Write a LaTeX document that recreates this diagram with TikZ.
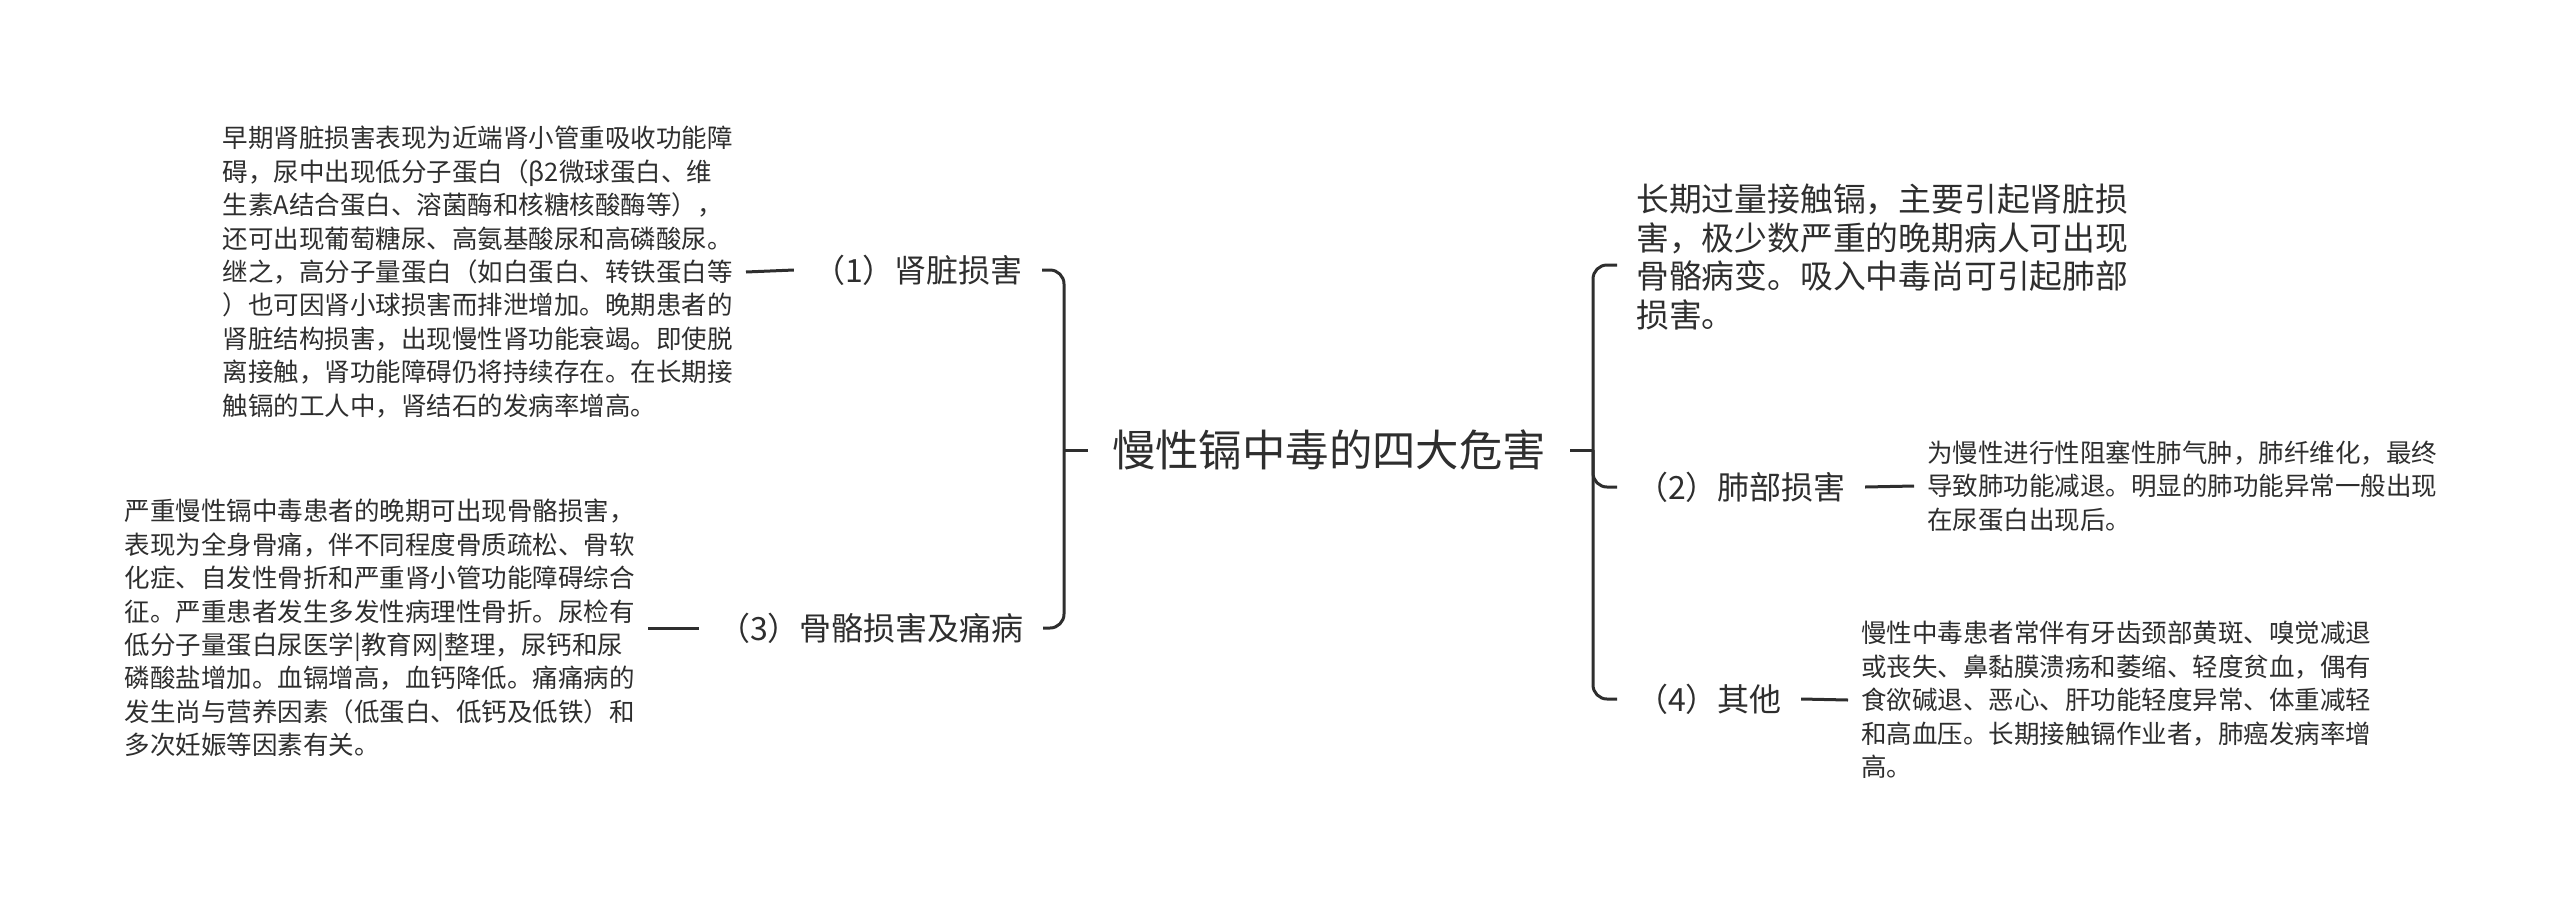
\documentclass[tikz,border=0pt]{standalone}
\usepackage{fontspec}
\newfontfamily\cjkfont{Noto Sans CJK SC}
\definecolor{inkgray}{HTML}{2E2E2E}

\begin{document}
\begin{tikzpicture}[x=1pt,y=-1pt,
  rootnode/.style={font=\cjkfont\fontsize{43.4}{52}\selectfont, text=inkgray, inner xsep=24pt, inner ysep=0pt},
  labelnode/.style={font=\cjkfont\fontsize{32}{38}\selectfont, text=inkgray, inner xsep=19pt, inner ysep=0pt},
  topnode/.style={font=\cjkfont\fontsize{32.8}{38.5}\selectfont, text=inkgray, inner xsep=19pt, inner ysep=0pt, align=left},
  notenode/.style={font=\cjkfont\fontsize{25.5}{33.4}\selectfont, text=inkgray, inner xsep=13pt, inner ysep=0pt, align=left},
  linkline/.style={draw=inkgray, line width=3pt},
  bracket/.style={linkline, rounded corners=14pt}]
\useasboundingbox (0,0) rectangle (2560,903);
\node[rootnode] (root) at (1329,450) {慢性镉中毒的四大危害};
\coordinate (lj) at (1064,450);
\coordinate (rj) at (1593,450);
\node[labelnode, anchor=east] (l1) at (1042,270) {（1）肾脏损害};
\node[labelnode, anchor=east] (l3) at (1043,628) {（3）骨骼损害及痛病};
\node[topnode, anchor=west] (top) at (1617,257) {长期过量接触镉，主要引起肾脏损\\害，极少数严重的晚期病人可出现\\骨骼病变。吸入中毒尚可引起肺部\\损害。};
\node[labelnode, anchor=west] (l2) at (1617,487) {（2）肺部损害};
\node[labelnode, anchor=west] (l4) at (1617,699) {（4）其他};
\node[notenode, anchor=east] (d1) at (746,272) {早期肾脏损害表现为近端肾小管重吸收功能障\\碍，尿中出现低分子蛋白（β2微球蛋白、维\\生素A结合蛋白、溶菌酶和核糖核酸酶等），\\还可出现葡萄糖尿、高氨基酸尿和高磷酸尿。\\继之，高分子量蛋白（如白蛋白、转铁蛋白等\\）也可因肾小球损害而排泄增加。晚期患者的\\肾脏结构损害，出现慢性肾功能衰竭。即使脱\\离接触，肾功能障碍仍将持续存在。在长期接\\触镉的工人中，肾结石的发病率增高。};
\node[notenode, anchor=east] (d3) at (648,628) {严重慢性镉中毒患者的晚期可出现骨骼损害，\\表现为全身骨痛，伴不同程度骨质疏松、骨软\\化症、自发性骨折和严重肾小管功能障碍综合\\征。严重患者发生多发性病理性骨折。尿检有\\低分子量蛋白尿医学|教育网|整理，尿钙和尿\\磷酸盐增加。血镉增高，血钙降低。痛痛病的\\发生尚与营养因素（低蛋白、低钙及低铁）和\\多次妊娠等因素有关。};
\node[notenode, anchor=west] (d2) at (1914,486) {为慢性进行性阻塞性肺气肿，肺纤维化，最终\\导致肺功能减退。明显的肺功能异常一般出现\\在尿蛋白出现后。};
\node[notenode, anchor=west] (d4) at (1848,700) {慢性中毒患者常伴有牙齿颈部黄斑、嗅觉减退\\或丧失、鼻黏膜溃疡和萎缩、轻度贫血，偶有\\食欲碱退、恶心、肝功能轻度异常、体重减轻\\和高血压。长期接触镉作业者，肺癌发病率增\\高。};
\draw[linkline] (root.west) -- (lj);
\draw[linkline] (root.east) -- (rj);
\draw[bracket] (l1.east) -| (lj) |- (l3.east);
\draw[bracket] ([yshift=-8pt]top.west) -| (rj) |- (l4.west);
\draw[bracket] (rj) |- (l2.west);
\draw[linkline] (d1.east) -- (l1.west);
\draw[linkline] (d3.east) -- (l3.west);
\draw[linkline] (l2.east) -- (d2.west);
\draw[linkline] (l4.east) -- (d4.west);
\end{tikzpicture}
\end{document}
